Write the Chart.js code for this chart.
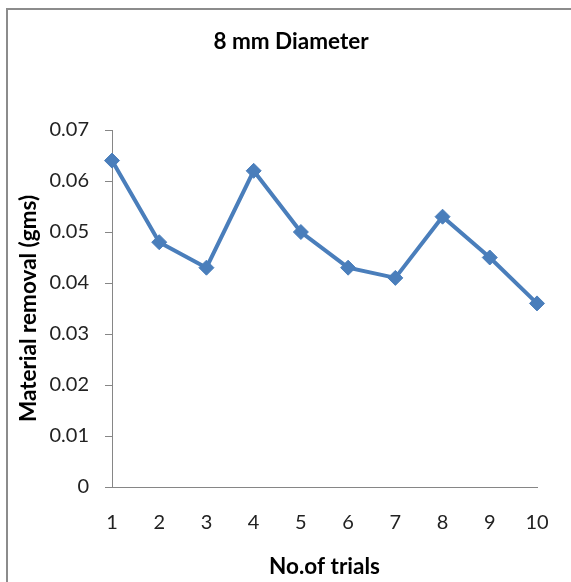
<!DOCTYPE html>
<html>
<head>
<meta charset="utf-8">
<script src="https://cdn.jsdelivr.net/npm/chart.js@4/dist/chart.umd.min.js"></script>
<style>
  html, body { margin: 0; padding: 0; background: #fff; overflow: hidden; }
  #frame { position: absolute; left: 6px; top: 8px; width: 620px; height: 620px; border: 2px solid #8c8c8c; }
  #wrap { position: absolute; left: 0; top: 0; width: 582px; height: 582px; }
</style>
</head>
<body>
<div id="frame"></div>
<div id="wrap"><canvas id="myChart"></canvas></div>
<script>
'use strict';

// data
const trials = ['1', '2', '3', '4', '5', '6', '7', '8', '9', '10'];
const removal = [0.064, 0.048, 0.043, 0.062, 0.050, 0.043, 0.041, 0.053, 0.045, 0.036];
const yTicks = [0, 0.01, 0.02, 0.03, 0.04, 0.05, 0.06, 0.07];

const axisGray = '#868686';
const blue = '#4a7ebb';

var ctx = document.getElementById('myChart').getContext('2d');

var chart = new Chart(ctx, {
    type: 'line',
    data: {
        labels: trials,
        datasets: [{
            label: 'Material removal',
            data: removal,
            borderColor: blue,
            backgroundColor: blue,
            borderWidth: 4,
            pointStyle: 'rectRot',
            pointRadius: 7.5,
            pointBorderWidth: 1,
            pointBackgroundColor: blue,
            pointBorderColor: blue,
            tension: 0
        }]
    },
    options: {
        responsive: true,
        maintainAspectRatio: false,
        animation: false,
        // left/right padding keeps the title centred where the original had it
        layout: { padding: { left: 45, right: 45, top: 0, bottom: 0 } },
        plugins: {
            legend: { display: false },
            tooltip: { enabled: false },
            title: {
                display: true,
                text: '8 mm Diameter',
                color: '#000',
                font: { family: 'Lato', size: 22.5, weight: 'bold' },
                padding: { top: 28.5, bottom: 74.5 }
            }
        },
        scales: {
            x: {
                offset: false,
                grid: { display: false, drawTicks: false },
                border: { display: true, color: axisGray, width: 1 },
                ticks: {
                    color: '#222',
                    font: { family: 'Lato', size: 20 },
                    padding: 23.5,
                    maxRotation: 0,
                    autoSkip: false
                },
                title: {
                    display: true,
                    text: 'No.of trials',
                    color: '#000',
                    font: { family: 'Lato', size: 22.5, weight: 'bold' },
                    padding: { top: 0, bottom: 1.5 }
                },
                afterFit: (s) => { s.height = 95; }
            },
            y: {
                min: 0,
                max: 0.07,
                afterBuildTicks: (s) => { s.ticks = yTicks.map(v => ({ value: v })); },
                grid: { drawOnChartArea: false, drawTicks: true, tickLength: 7, color: axisGray },
                border: { display: true, color: axisGray, width: 1 },
                ticks: {
                    color: '#222',
                    font: { family: 'Lato', size: 20 },
                    padding: 16,
                    callback: (v) => v === 0 ? '0' : v.toFixed(2)
                },
                title: {
                    display: true,
                    text: 'Material removal (gms)',
                    color: '#000',
                    font: { family: 'Lato', size: 22.5, weight: 'bold' },
                    padding: { top: -29.5, bottom: 0 }
                },
                afterFit: (s) => { s.width = 67; }
            }
        }
    }
});
</script>
</body>
</html>
